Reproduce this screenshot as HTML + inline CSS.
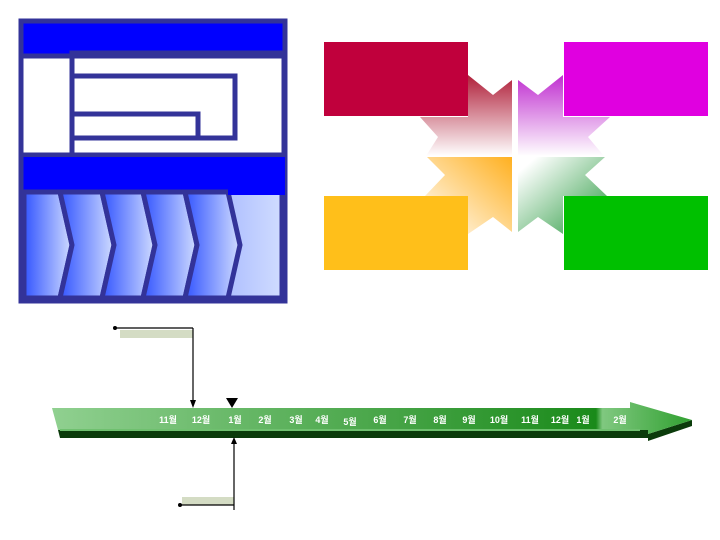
<!DOCTYPE html>
<html><head><meta charset="utf-8"><style>body{margin:0;background:#fff}svg{display:block}</style></head><body>
<svg width="720" height="540" viewBox="0 0 720 540" xmlns="http://www.w3.org/2000/svg">
<defs>
<linearGradient id="chev" x1="0" y1="0" x2="1" y2="0"><stop offset="0" stop-color="#3355ff"/><stop offset="1" stop-color="#d0dcff"/></linearGradient>
<linearGradient id="gr" x1="0" y1="0" x2="0" y2="1"><stop offset="0" stop-color="#b0203a"/><stop offset="1" stop-color="#fff"/></linearGradient>
<linearGradient id="gm" x1="0" y1="0" x2="0" y2="1"><stop offset="0" stop-color="#c030d0"/><stop offset="1" stop-color="#fff"/></linearGradient>
<linearGradient id="go" x1="1" y1="0" x2="0" y2="1"><stop offset="0" stop-color="#ffb020"/><stop offset="1" stop-color="#fff"/></linearGradient>
<linearGradient id="gg" x1="1" y1="1" x2="0" y2="0"><stop offset="0" stop-color="#2a9a40"/><stop offset="0.9" stop-color="#fff"/></linearGradient>
<linearGradient id="tl" x1="0" y1="0" x2="1" y2="0"><stop offset="0" stop-color="#90d090"/><stop offset="0.85" stop-color="#1a8a1a"/><stop offset="0.86" stop-color="#80c880"/><stop offset="1" stop-color="#30a030"/></linearGradient>
</defs>
<rect x="21" y="21" width="264" height="280" fill="#fff" stroke="#333399" stroke-width="5"/>
<rect x="21" y="21" width="264" height="35" fill="#0000ff"/>
<rect x="21" y="56" width="264" height="99" fill="#fff" stroke="#333399" stroke-width="5"/>
<rect x="72" y="53" width="212" height="102" fill="none" stroke="#333399" stroke-width="5"/>
<rect x="72" y="76" width="163" height="62" fill="none" stroke="#333399" stroke-width="5"/>
<rect x="72" y="114" width="126" height="24" fill="none" stroke="#333399" stroke-width="5"/>
<rect x="21" y="157" width="264" height="38" fill="#0000ff"/>
<g stroke="#333399" stroke-width="5">
<rect x="24" y="192" width="258" height="106" fill="url(#chev)"/>
<polygon points="24,192 60,192 72,245 60,298 24,298" fill="url(#chev)"/>
<polygon points="60,192 102,192 114,245 102,298 60,298 72,245" fill="url(#chev)"/>
<polygon points="102,192 143,192 155,245 143,298 102,298 114,245" fill="url(#chev)"/>
<polygon points="143,192 185,192 197,245 185,298 143,298 155,245" fill="url(#chev)"/>
<polygon points="185,192 228,192 240,245 228,298 185,298 197,245" fill="url(#chev)"/>
</g>
<rect x="21" y="21" width="264" height="280" fill="none" stroke="#333399" stroke-width="5"/>
<rect x="228" y="157" width="57" height="38" fill="#0000ff"/>
<polygon points="468,75 493,95 512,80 512,156 426,156 438,137 420,117 468,117" fill="url(#gr)"/>
<polygon points="427,157 512,157 512,232 493,217 468,234 468,196 425,196 445,175" fill="url(#go)"/>
<polygon points="518,80 538,95 563,75 563,117 610,117 588,137 604,156 518,156" fill="url(#gm)"/>
<polygon points="518,157 605,157 585,175 607,196 563,196 563,234 538,217 518,232" fill="url(#gg)"/>
<rect x="324" y="42" width="144" height="74" fill="#c0003c"/>
<rect x="564" y="42" width="144" height="74" fill="#e000e0"/>
<rect x="324" y="196" width="144" height="74" fill="#ffbf1a"/>
<rect x="564" y="196" width="144" height="74" fill="#00c000"/>
<polygon points="58,430 648,430 648,434 692,420 692,426 648,441 648,438 60,438" fill="#0b3b0b"/>
<polygon points="52,408 630,408 630,402 692,420 648,434 648,430 58,430" fill="url(#tl)"/>
<line x1="60" y1="430" x2="640" y2="430" stroke="#6fc06f" stroke-width="2"/>
<g font-family="Liberation Sans, Noto Sans CJK KR, sans-serif" font-size="9" font-weight="bold" fill="#fff" text-anchor="middle">
<text x="168" y="423">11월</text><text x="201" y="423">12월</text><text x="235" y="423">1월</text><text x="265" y="423">2월</text><text x="296" y="423">3월</text><text x="322" y="423">4월</text><text x="350" y="425">5월</text><text x="380" y="423">6월</text><text x="410" y="423">7월</text><text x="440" y="423">8월</text><text x="469" y="423">9월</text><text x="499" y="423">10월</text><text x="530" y="423">11월</text><text x="560" y="423">12월</text><text x="583" y="423">1월</text><text x="620" y="423">2월</text>
</g>
<polygon points="226,398 238,398 232,408" fill="#000"/>
<rect x="120" y="330" width="73" height="8" fill="#d4dcc4"/>
<line x1="115" y1="328" x2="193" y2="328" stroke="#000" stroke-width="1.2"/>
<circle cx="115" cy="328" r="2" fill="#000"/>
<line x1="193" y1="328" x2="193" y2="402" stroke="#000" stroke-width="1.2"/>
<polygon points="190,400 196,400 193,408" fill="#000"/>
<rect x="182" y="497" width="52" height="8" fill="#d4dcc4"/>
<line x1="180" y1="505" x2="234" y2="505" stroke="#000" stroke-width="1.2"/>
<circle cx="180" cy="505" r="2" fill="#000"/>
<line x1="234" y1="442" x2="234" y2="510" stroke="#000" stroke-width="1.2"/>
<polygon points="231,444 237,444 234,437" fill="#000"/>
</svg>
</body></html>
